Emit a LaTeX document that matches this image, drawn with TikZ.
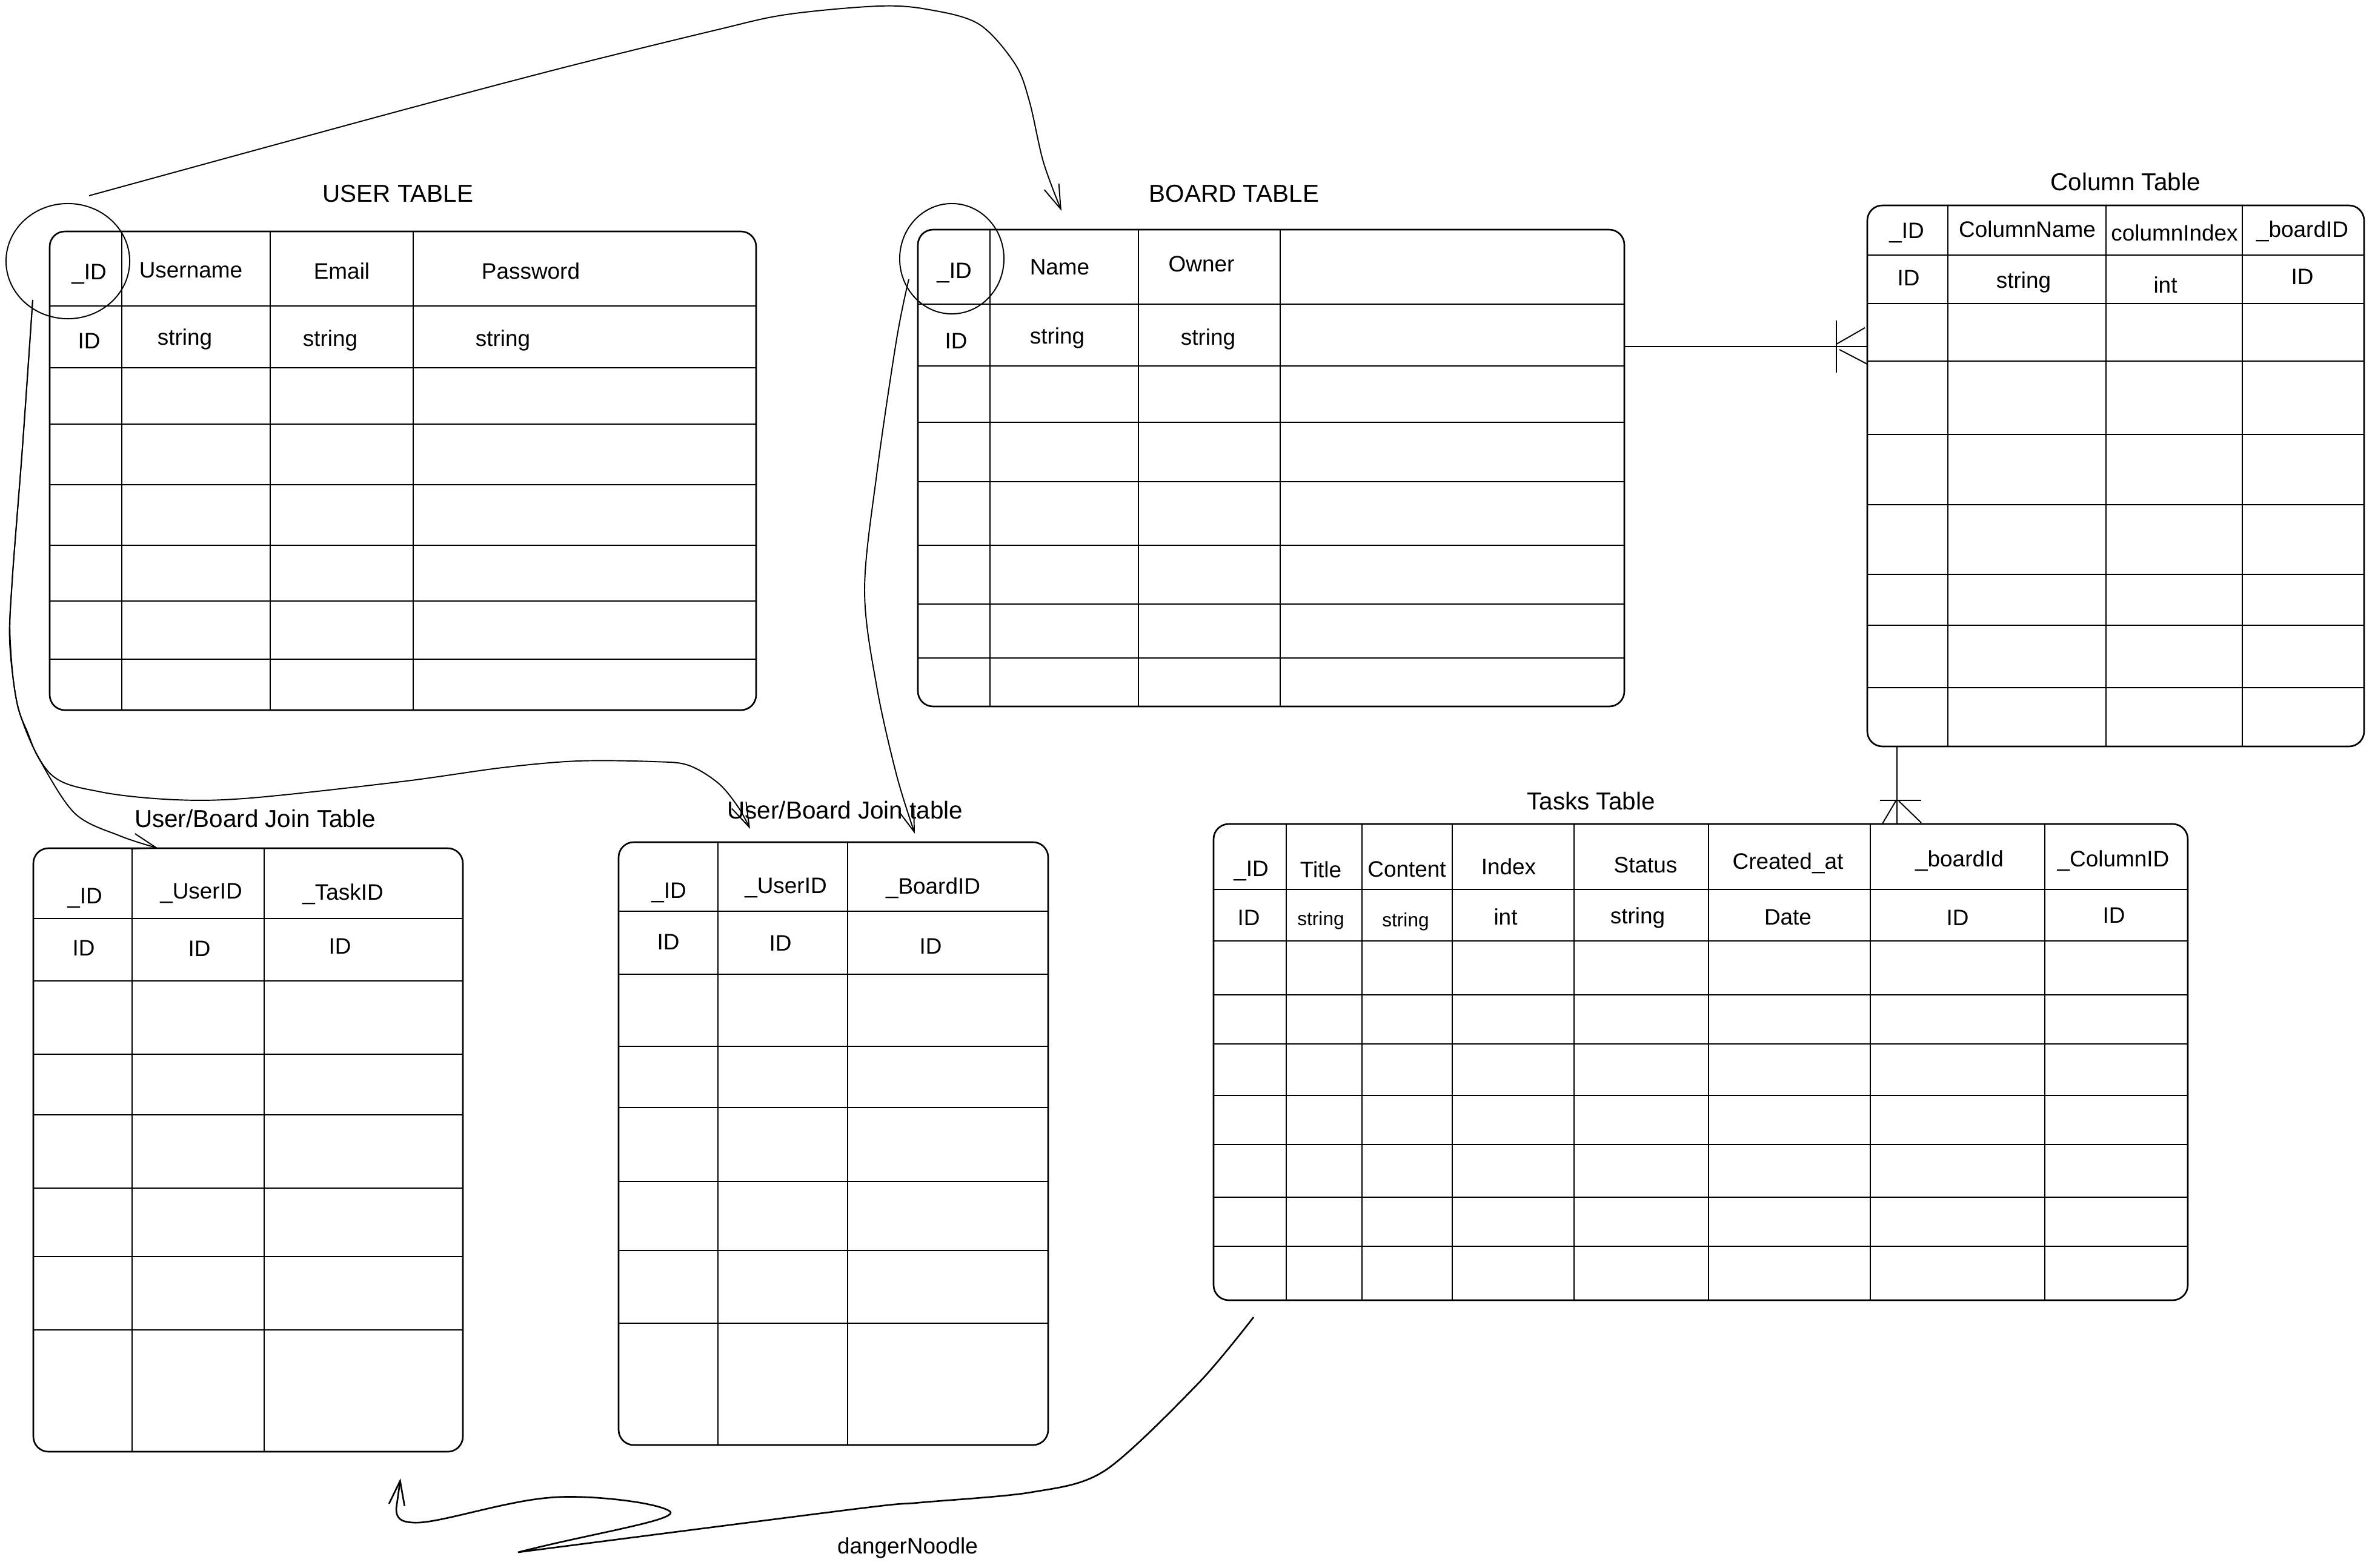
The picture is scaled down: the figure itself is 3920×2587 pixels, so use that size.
\documentclass[tikz,border=0pt]{standalone}
\usepackage{fontspec}
\setmainfont{Liberation Sans}
\usetikzlibrary{shapes.geometric,arrows.meta}
\newcommand\erdtable[7]{%
  \coordinate (#1-nw) at (#2,#3);
  \coordinate (#1-se) at (#4,#5);
  \foreach \cx in {#6} \draw[gridline] (\cx,#3) -- (\cx,#5);
  \foreach \ry in {#7} \draw[gridline] (#2,\ry) -- (#4,\ry);
  \draw[tbl] (#1-nw) rectangle (#1-se);
}
\begin{document}
\begin{tikzpicture}[x=0.01cm,y=-0.01cm,
  tbl/.style={draw, line width=0.75pt, rounded corners=0.25cm},
  gridline/.style={line width=0.6pt},
  lbl/.style={font=\fontsize{10.5}{12}\selectfont, inner sep=0pt},
  sml/.style={font=\fontsize{9}{10}\selectfont, inner sep=0pt},
  ttl/.style={font=\fontsize{11.5}{13}\selectfont, inner sep=0pt},
  conn/.style={line width=0.55pt},
  arr/.style={conn, -{Straight Barb[length=0.4cm,width=0.26cm]}},
  idcirc/.style={ellipse, draw, line width=0.55pt, inner sep=0pt}
]
\useasboundingbox (0,0) rectangle (3920,2587);

% ---------------- tables ----------------
\erdtable{user}{82}{382}{1248}{1172}{201,446,682}{505,607,700,800,900,992,1088}
\erdtable{board}{1515}{379}{2681}{1166}{1634,1879,2113}{502,604,697,795,900,997,1086}
\erdtable{col}{3082}{339}{3902}{1232}{3215,3476,3701}{421,501,596,717,833,948,1032,1135}
\erdtable{task}{2003}{1360}{3611}{2146}{2123,2248,2397,2598,2820,3087,3375}{1468,1553,1642,1723,1808,1889,1976,2057}
\erdtable{ljoin}{55}{1400}{764}{2396}{218,436}{1516,1619,1740,1840,1961,2074,2195}
\erdtable{mjoin}{1021}{1390}{1730}{2385}{1185,1399}{1504,1608,1727,1828,1950,2064,2184}

% ---------------- user table text ----------------
\node[ttl] (userT) at (657,320) {USER TABLE};
\node[lbl] (uh1) at (147,452) {\_ID};
\node[lbl] (uh2) at (315,446) {Username};
\node[lbl] (uh3) at (564,447) {Email};
\node[lbl] (uh4) at (876,447) {Password};
\node[lbl] (ut1) at (147,563) {ID};
\node[lbl] (ut2) at (305,560) {string};
\node[lbl] (ut3) at (545,562) {string};
\node[lbl] (ut4) at (830,562) {string};

% ---------------- board table text ----------------
\node[ttl] (boardT) at (2037,320) {BOARD TABLE};
\node[lbl] (bh1) at (1575,450) {\_ID};
\node[lbl] (bh2) at (1749,441) {Name};
\node[lbl] (bh3) at (1983,436) {Owner};
\node[lbl] (bt1) at (1578,563) {ID};
\node[lbl] (bt2) at (1745,558) {string};
\node[lbl] (bt3) at (1994,560) {string};

% ---------------- column table text ----------------
\node[ttl] (colT) at (3508,300) {Column Table};
\node[lbl] (ch1) at (3147,384) {\_ID};
\node[lbl] (ch2) at (3346,378) {ColumnName};
\node[lbl] (ch3) at (3589,384) {columnIndex};
\node[lbl] (ch4) at (3800,382) {\_boardID};
\node[lbl] (ct1) at (3150,459) {ID};
\node[lbl] (ct2) at (3340,466) {string};
\node[lbl] (ct3) at (3574,470) {int};
\node[lbl] (ct4) at (3800,457) {ID};

% ---------------- tasks table text ----------------
\node[ttl] (taskT) at (2626,1322) {Tasks Table};
\node[lbl] (th1) at (2065,1437) {\_ID};
\node[lbl] (th2) at (2180,1435) {Title};
\node[lbl] (th3) at (2322,1435) {Content};
\node[lbl] (th4) at (2490,1430) {Index};
\node[lbl] (th5) at (2716,1428) {Status};
\node[lbl] (th6) at (2951,1425) {Created\_at};
\node[lbl] (th7) at (3234,1421) {\_boardId};
\node[lbl] (th8) at (3488,1421) {\_ColumnID};
\node[lbl] (tt1) at (2061,1515) {ID};
\node[sml] (tt2) at (2180,1519) {string};
\node[sml] (tt3) at (2320,1521) {string};
\node[lbl] (tt4) at (2485,1513) {int};
\node[lbl] (tt5) at (2703,1515) {string};
\node[lbl] (tt6) at (2951,1514) {Date};
\node[lbl] (tt7) at (3231,1515) {ID};
\node[lbl] (tt8) at (3489,1511) {ID};

% ---------------- left join table text ----------------
\node[ttl] (ljT) at (421,1351) {User/Board Join Table};
\node[lbl] (lh1) at (140,1482) {\_ID};
\node[lbl] (lh2) at (332,1474) {\_UserID};
\node[lbl] (lh3) at (566,1476) {\_TaskID};
\node[lbl] (lt1) at (138,1565) {ID};
\node[lbl] (lt2) at (329,1566) {ID};
\node[lbl] (lt3) at (561,1562) {ID};

% ---------------- middle join table text ----------------
\node[ttl] (mjT) at (1395,1337) {User/Board Join table};
\node[lbl] (mh1) at (1104,1473) {\_ID};
\node[lbl] (mh2) at (1297,1465) {\_UserID};
\node[lbl] (mh3) at (1540,1466) {\_BoardID};
\node[lbl] (mt1) at (1103,1555) {ID};
\node[lbl] (mt2) at (1288,1557) {ID};
\node[lbl] (mt3) at (1536,1562) {ID};

\node[lbl] (noodleT) at (1498,2555) {dangerNoodle};

% ---------------- ID circles ----------------
\node[idcirc, minimum width=2.04cm, minimum height=1.9cm] (ucirc) at (112,431) {};
\node[idcirc, minimum width=1.72cm, minimum height=1.82cm] (bcirc) at (1571,427) {};

% ---------------- connectors ----------------
\coordinate (a1s) at (147,323);
\coordinate (a1e) at (1752,348);
\draw[arr] plot[smooth, tension=0.55] coordinates {(a1s) (472,234) (708,170) (944,108) (1180,50) (1298,24) (1451,10) (1534,16) (1616,40) (1675,105) (1699,167) (1722,267) (a1e)};

\coordinate (a2s) at (54,495);
\coordinate (a2e) at (261,1400);
\draw[arr] plot[smooth, tension=0.55] coordinates {(a2s) (37,739) (20,960) (16,1060) (28,1160) (46,1210) (66,1255) (124,1343) (199,1380) (a2e)};

\coordinate (a3e) at (1238,1368);
\draw[arr] plot[smooth, tension=0.55] coordinates {(a2s) (37,739) (20,960) (17,1060) (32,1175) (83,1277) (166,1307) (290,1320) (415,1317) (663,1290) (829,1267) (954,1256) (1078,1257) (1136,1263) (1186,1293) (1219,1333) (a3e)};

\coordinate (a4s) at (1500,461);
\coordinate (a4e) at (1510,1376);
\draw[arr] plot[smooth, tension=0.55] coordinates {(a4s) (1480,559) (1447,783) (1427,974) (1447,1133) (1480,1280) (a4e)};

% board -> column (crow's foot)
\coordinate (bR) at (2681,572);
\coordinate (cL) at (3082,572);
\draw[conn] (bR) -- (cL);
\draw[conn] (3031,529) -- (3031,615);
\draw[conn] (3031,568) -- (3078,541);
\draw[conn] (3036,577) -- (3082,601);

% column -> tasks (crow's foot)
\coordinate (cB) at (3131,1232);
\coordinate (tT) at (3131,1360);
\draw[conn] (cB) -- (tT);
\draw[conn] (3103,1321) -- (3171,1321);
\draw[conn] (3129,1322) -- (3106,1361);
\draw[conn] (3134,1322) -- (3171,1358);

% danger noodle
\coordinate (ns) at (2069,2174);
\coordinate (nm) at (855,2562);
\coordinate (ne) at (661,2440);
\draw[conn, line width=0.75pt, -{Straight Barb[length=0.4cm,width=0.26cm]}]
  plot[smooth, tension=0.5] coordinates {(ns) (1978,2283) (1824,2427) (1702,2463) (1518,2480) (1416,2490) (nm)}
  .. controls (980,2530) and (1125,2508) .. (1105,2494)
  .. controls (1080,2478) and (960,2466) .. (906,2472)
  .. controls (830,2478) and (720,2516) .. (682,2513)
  .. controls (660,2512) and (654,2505) .. (654,2490)
  -- (ne);
\end{tikzpicture}
\end{document}
